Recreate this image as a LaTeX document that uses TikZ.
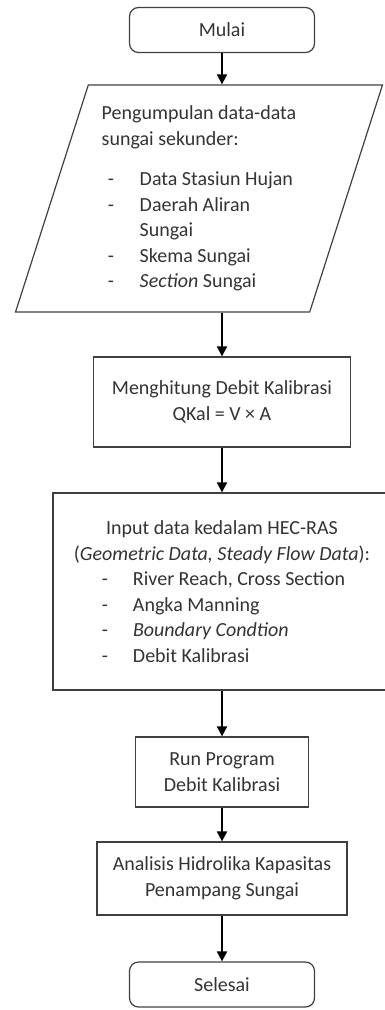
\documentclass[tikz,border=0pt]{standalone}
\usepackage{fontspec}
\setmainfont{Carlito}
\usepackage{tikz}
\usetikzlibrary{
  positioning,
  arrows.meta,
  shapes.geometric
}

\begin{document}
\begin{tikzpicture}[
      x=1pt, y=-1pt,
      every node/.style={font=\fontsize{20}{25.5}\selectfont, text=black!80},
      terminal/.style={rectangle, rounded corners=9pt, draw=black!75, line width=1.2pt, minimum width=185pt, minimum height=45pt},
      process/.style={rectangle, draw=black!75, line width=1.2pt, align=center},
      dataio/.style={trapezium, trapezium left angle=71, trapezium right angle=109, trapezium stretches=true, draw=black!75, line width=1.2pt, minimum width=368pt, minimum height=227pt, align=left},
      arrow/.style={-{Triangle[width=10pt,length=10pt]}, line width=1.8pt}
    ]
      \useasboundingbox (0,0) rectangle (384,1010);

      % Start and data
      \node[terminal] (mulai) at (222,30) {Mulai};
      \node[dataio] (data) at (199,198.5) {Pengumpulan data-data\\
        sungai sekunder:\\[15pt]
        \hspace*{6pt}\makebox[32pt][l]{-}Data Stasiun Hujan\\
        \hspace*{6pt}\makebox[32pt][l]{-}Daerah Aliran\\
        \hspace*{6pt}\makebox[32pt][l]{}Sungai\\
        \hspace*{6pt}\makebox[32pt][l]{-}Skema Sungai\\
        \hspace*{6pt}\makebox[32pt][l]{-}\textit{Section} Sungai};

      % Processes
      \node[process, minimum width=257pt, minimum height=90pt] (debit) at (222,402) {Menghitung Debit Kalibrasi\\ QKal = V × A};
      \node[process, minimum width=338pt, minimum height=197pt] (input) at (222,591.5) {Input data kedalam HEC-RAS\\
        (\textit{Geometric Data, Steady Flow Data}):\\
        \makebox[240pt][l]{\makebox[31pt][l]{-}River Reach, Cross Section}\\
        \makebox[240pt][l]{\makebox[31pt][l]{-}Angka Manning}\\
        \makebox[240pt][l]{\makebox[31pt][l]{-}\textit{Boundary Condtion}}\\
        \makebox[240pt][l]{\makebox[31pt][l]{-}Debit Kalibrasi}};
      \node[process, minimum width=173pt, minimum height=70pt] (run) at (222,772) {Run Program\\ Debit Kalibrasi};
      \node[process, minimum width=250pt, minimum height=73pt] (analisis) at (222,878.5) {Analisis Hidrolika Kapasitas\\ Penampang Sungai};

      % End
      \node[terminal] (selesai) at (222,984.5) {Selesai};

      % Arrows
      \draw[arrow] (mulai) -- (mulai |- data.north);
      \draw[arrow] (data.south -| debit) -- (debit);
      \draw[arrow] (debit) -- (input);
      \draw[arrow] (input) -- (run);
      \draw[arrow] (run) -- (analisis);
      \draw[arrow] (analisis) -- (selesai);
    \end{tikzpicture}
\end{document}
